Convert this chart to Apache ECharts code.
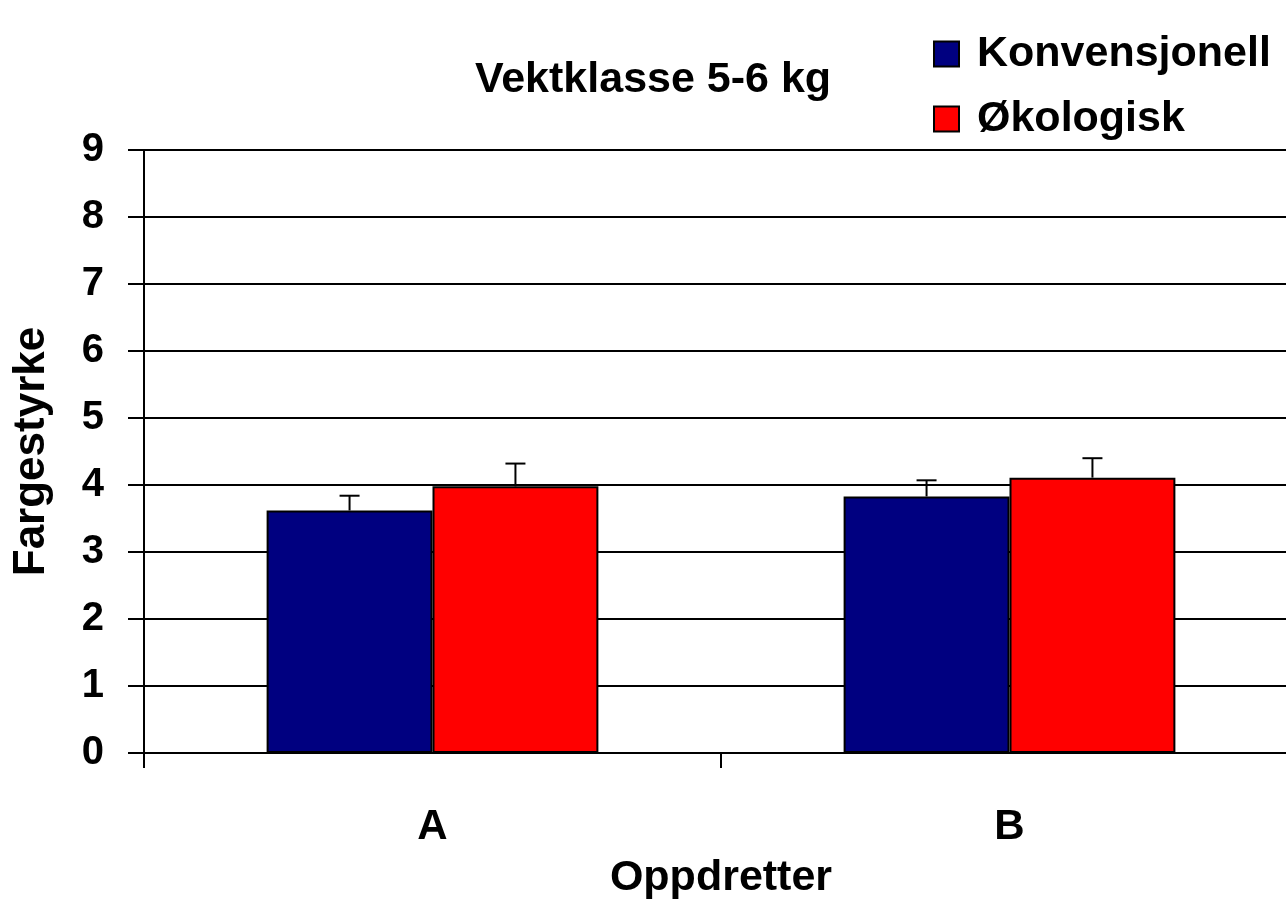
<!DOCTYPE html>
<html>
<head>
<meta charset="utf-8">
<script src="https://cdn.jsdelivr.net/npm/echarts@6/dist/echarts.min.js"></script>
<style>
  html, body { margin: 0; padding: 0; background: #fff; overflow: hidden; }
  #chart { width: 1286px; height: 899px; }
</style>
</head>
<body>
<div id="chart"></div>
<script>
const categories = ['A', 'B']
const konvensjonell = [3.62, 3.83]
const okologisk = [3.98, 4.11]
const konvensjonellErr = [0.22, 0.24]
const okologiskErr = [0.34, 0.29]
const yTicks = [0, 1, 2, 3, 4, 5, 6, 7, 8, 9]

const FONT = 'Liberation Sans, Arial, sans-serif'
const chart = echarts.init(document.getElementById('chart'))

// error bar drawn next to the bar; side = -1 left bar, +1 right bar
function errorBar(side) {
  return function (params, api) {
    const idx = api.value(0)
    const base = api.coord([idx, api.value(1)])
    const top = api.coord([idx, api.value(1) + api.value(2)])
    const band = api.size([1, 0])[0]
    const barW = band * (1 - 0.425) / 2
    const x = base[0] + side * barW / 2
    const style = { stroke: '#000', lineWidth: 2 }
    return {
      type: 'group',
      children: [
        { type: 'line', shape: { x1: x, y1: base[1], x2: x, y2: top[1] }, style },
        { type: 'line', shape: { x1: x - 10, y1: top[1], x2: x + 10, y2: top[1] }, style },
      ],
    }
  }
}

const option = {
  backgroundColor: '#fff',
  animation: false,
  title: {
    text: 'Vektklasse 5-6 kg',
    left: 648,
    top: 54,
    textAlign: 'center',
    textStyle: { fontFamily: FONT, fontSize: 43, fontWeight: 'bold', color: '#000' },
  },
  legend: {
    orient: 'vertical',
    left: 933,
    top: 32,
    padding: 0,
    itemWidth: 25,
    itemHeight: 25,
    itemGap: 21,
    icon: 'rect',
    data: ['Konvensjonell', 'Økologisk'],
    textStyle: {
      fontFamily: FONT, fontSize: 43, fontWeight: 'bold', color: '#000',
      lineHeight: 44, padding: [0, 0, 0, 13],
    },
  },
  grid: {
    left: 144,
    right: -12,
    top: 150,
    bottom: 146,
    outerBoundsMode: 'none',
    containLabel: false,
  },
  xAxis: {
    type: 'category',
    data: categories,
    name: 'Oppdretter',
    nameLocation: 'middle',
    nameGap: 104,
    nameTextStyle: { fontFamily: FONT, fontSize: 43, fontWeight: 'bold', color: '#000' },
    axisLine: { lineStyle: { color: '#000', width: 2 } },
    axisTick: { show: true, length: 15, lineStyle: { color: '#000', width: 2 } },
    axisLabel: { fontFamily: FONT, fontSize: 42, fontWeight: 'bold', color: '#000', margin: 53 },
    splitLine: { show: false },
  },
  yAxis: {
    type: 'value',
    min: yTicks[0],
    max: yTicks[yTicks.length - 1],
    interval: 1,
    name: 'Fargestyrke',
    nameLocation: 'middle',
    nameGap: 90,
    nameTextStyle: { fontFamily: FONT, fontSize: 44, fontWeight: 'bold', color: '#000' },
    axisLine: { show: true, lineStyle: { color: '#000', width: 2 } },
    axisTick: { show: true, length: 16, lineStyle: { color: '#000', width: 2 } },
    axisLabel: { fontFamily: FONT, fontSize: 40, fontWeight: 'bold', color: '#000', margin: 40 },
    splitLine: { show: true, lineStyle: { color: '#000', width: 2 } },
  },
  series: [
    {
      name: 'Konvensjonell',
      type: 'bar',
      data: konvensjonell,
      barGap: '0%',
      barCategoryGap: '42.5%',
      itemStyle: { color: '#000080', borderColor: '#000', borderWidth: 2 },
    },
    {
      name: 'Økologisk',
      type: 'bar',
      data: okologisk,
      itemStyle: { color: '#ff0000', borderColor: '#000', borderWidth: 2 },
    },
    {
      type: 'custom',
      renderItem: errorBar(-1),
      data: categories.map((c, i) => [i, konvensjonell[i], konvensjonellErr[i]]),
      z: 3,
    },
    {
      type: 'custom',
      renderItem: errorBar(1),
      data: categories.map((c, i) => [i, okologisk[i], okologiskErr[i]]),
      z: 3,
    },
  ],
}

chart.setOption(option)
</script>
</body>
</html>
